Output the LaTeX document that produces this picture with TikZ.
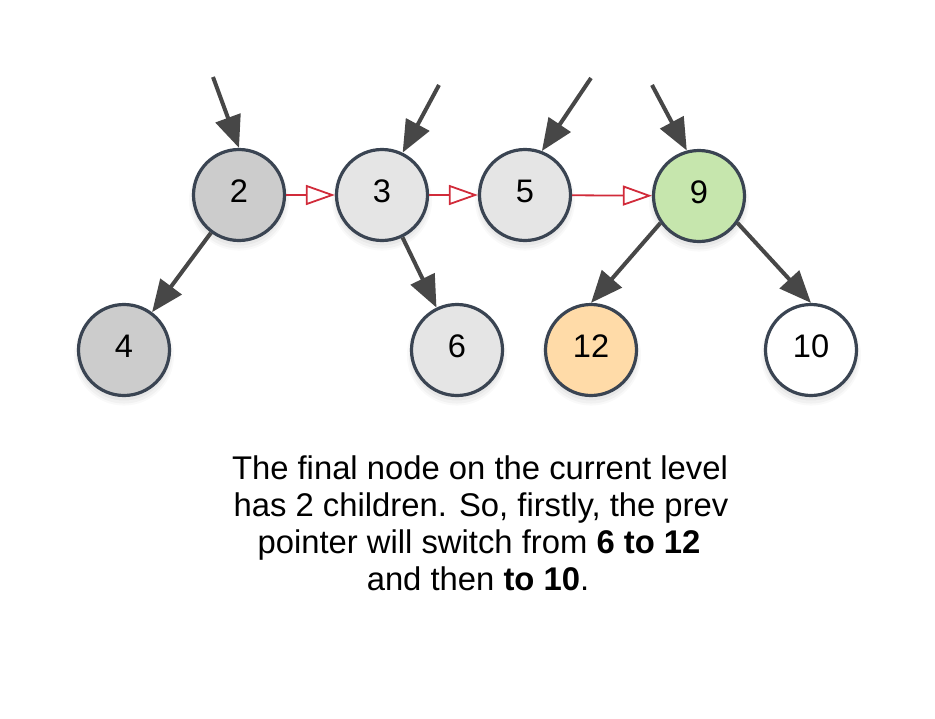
\documentclass[tikz,border=0pt]{standalone}
\usepackage{fontspec}
\setmainfont{Liberation Sans}
\usetikzlibrary{arrows.meta,shadows}
\definecolor{edgegray}{HTML}{474747}
\definecolor{bordercol}{HTML}{3A4452}
\definecolor{redarrow}{HTML}{D12B3A}
\definecolor{darkfill}{HTML}{CCCCCC}
\definecolor{lightfill}{HTML}{E5E5E5}
\definecolor{greenfill}{HTML}{C6E6AD}
\definecolor{orangefill}{HTML}{FFDBA8}
\tikzset{
  treenode/.style={circle, draw=bordercol, line width=3.2pt, minimum size=91pt, inner sep=0pt,
    font=\fontsize{32.6}{37}\selectfont, text height=23.4pt, text depth=8pt,
    general shadow={fill=black, opacity=0.025, shadow xshift=0pt, shadow yshift=-5pt, shadow scale=1.10},
    general shadow={fill=black, opacity=0.03, shadow xshift=0pt, shadow yshift=-5pt, shadow scale=1.06},
    general shadow={fill=black, opacity=0.04, shadow xshift=0pt, shadow yshift=-4pt, shadow scale=1.02}},
  ptr/.style={draw=edgegray, line width=4pt, -{Triangle[length=32pt,width=26pt]}},
  nextp/.style={draw=redarrow, line width=1.8pt, -{Triangle[open,length=29pt,width=20pt,line width=1.8pt]}},
  caption/.style={anchor=base, font=\fontsize{32.8}{37}\selectfont, inner sep=0pt}
}
\begin{document}
\begin{tikzpicture}[x=1pt,y=-1pt]
\useasboundingbox (0,0) rectangle (935,718);
\node[treenode, fill=darkfill]   (n2)  at (239,195) {2};
\node[treenode, fill=lightfill]  (n3)  at (382,195) {3};
\node[treenode, fill=lightfill]  (n5)  at (525,195) {5};
\node[treenode, fill=greenfill]  (n9)  at (699,196) {9};
\node[treenode, fill=darkfill]   (n4)  at (124,350) {4};
\node[treenode, fill=lightfill]  (n6)  at (457,350) {6};
\node[treenode, fill=orangefill] (n12) at (591,350) {12};
\node[treenode, fill=white]      (n10) at (811,350) {10};

\coordinate (a2) at (213,77);
\coordinate (a3) at (439,85);
\coordinate (a5) at (591,78);
\coordinate (a9) at (652,85);

\draw[ptr] (a2) -- (n2.north);
\draw[ptr] (a3) -- (n3.64);
\draw[ptr] (a5) -- (n5.69);
\draw[ptr] (a9) -- (n9.105);

\draw[ptr] (n2) -- (n4);
\draw[ptr] (n3) -- (n6);
\draw[ptr] (n9.215) -- (n12.north);
\draw[ptr] (n9.325) -- (n10.north);

\draw[nextp] (n2) -- (n3);
\draw[nextp] (n3) -- (n5);
\draw[nextp] (n5) -- (n9);

\node[caption] (l1) at (480,479) {The final node on the current level};
\node[caption] (l2) at (481,516) {has 2 children. So, firstly, the prev};
\node[caption] (l3) at (479,553) {pointer will switch from \textbf{6 to 12}};
\node[caption] (l4) at (478,590) {and then \textbf{to 10}.};
\end{tikzpicture}
\end{document}
